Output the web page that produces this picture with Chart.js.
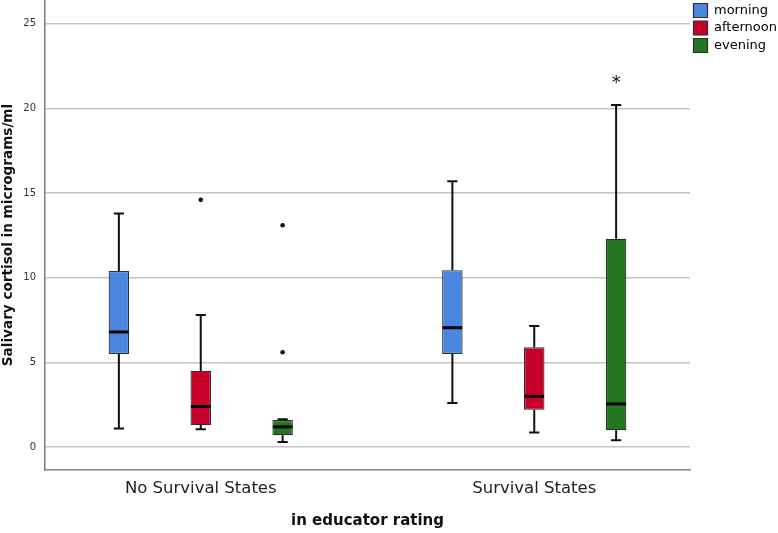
<!DOCTYPE html>
<html><head><meta charset="utf-8">
<script src="https://cdn.jsdelivr.net/npm/chart.js@4/dist/chart.umd.min.js"></script>
<style>html,body{margin:0;padding:0;background:#fff;} #wrap{width:778px;height:533px;position:relative;}</style>
</head><body><div id="wrap"><canvas id="c" width="778" height="533"></canvas></div>
<script>
// ---- data ----
const categories = ["No Survival States", "Survival States"];
const seriesNames = ["morning", "afternoon", "evening"];
const yTicks = [0, 5, 10, 15, 20, 25];

const morningMin    = [1.1, 2.6];
const morningQ1     = [5.5, 5.5];
const morningMedian = [6.8, 7.05];
const morningQ3     = [10.4, 10.45];
const morningMax    = [13.8, 15.7];
const morningOutliers = [[], []];
const morningExtremes = [[], []];

const afternoonMin    = [1.05, 0.86];
const afternoonQ1     = [1.3, 2.2];
const afternoonMedian = [2.4, 3.0];
const afternoonQ3     = [4.5, 5.9];
const afternoonMax    = [7.8, 7.15];
const afternoonOutliers = [[14.6], []];
const afternoonExtremes = [[], []];

const eveningMin    = [0.3, 0.4];
const eveningQ1     = [0.7, 1.0];
const eveningMedian = [1.2, 2.55];
const eveningQ3     = [1.6, 12.3];
const eveningMax    = [1.65, 20.2];
const eveningOutliers = [[5.6, 13.1], []];
const eveningExtremes = [[], [21.8]];

const stats = [
  {min: morningMin, q1: morningQ1, med: morningMedian, q3: morningQ3, max: morningMax, out: morningOutliers, ext: morningExtremes},
  {min: afternoonMin, q1: afternoonQ1, med: afternoonMedian, q3: afternoonQ3, max: afternoonMax, out: afternoonOutliers, ext: afternoonExtremes},
  {min: eveningMin, q1: eveningQ1, med: eveningMedian, q3: eveningQ3, max: eveningMax, out: eveningOutliers, ext: eveningExtremes}
];
const colors = ["#4a86e0", "#c8002a", "#24771f"];

const datasets = stats.map((s, di) => ({
  label: seriesNames[di],
  data: categories.map((c, i) => ({x: i, y: [s.q1[i], s.q3[i]]})),
  backgroundColor: colors[di],
  borderColor: "#2e2e2e",
  borderWidth: 1.2,
  borderSkipped: false,
  categoryPercentage: 0.7365,
  barPercentage: 0.25
}));

const boxPlugin = {
  id: 'boxWhiskers',
  afterDatasetsDraw(chart) {
    const ctx = chart.ctx;
    const ys = chart.scales.y;
    chart.data.datasets.forEach((ds, di) => {
      const meta = chart.getDatasetMeta(di);
      const s = stats[di];
      meta.data.forEach((bar, i) => {
        const cx = bar.x, w = bar.width;
        const pMin = ys.getPixelForValue(s.min[i]);
        const pQ1 = ys.getPixelForValue(s.q1[i]);
        const pMed = ys.getPixelForValue(s.med[i]);
        const pQ3 = ys.getPixelForValue(s.q3[i]);
        const pMax = ys.getPixelForValue(s.max[i]);
        ctx.save();
        ctx.strokeStyle = '#111';
        ctx.lineWidth = 2;
        ctx.beginPath();
        ctx.moveTo(cx, pQ3); ctx.lineTo(cx, pMax);
        ctx.moveTo(cx - w / 4, pMax); ctx.lineTo(cx + w / 4, pMax);
        ctx.moveTo(cx, pQ1); ctx.lineTo(cx, pMin);
        ctx.moveTo(cx - w / 4, pMin); ctx.lineTo(cx + w / 4, pMin);
        ctx.stroke();
        ctx.lineWidth = 3;
        ctx.strokeStyle = '#000';
        ctx.beginPath();
        ctx.moveTo(cx - w / 2 + 0.5, pMed); ctx.lineTo(cx + w / 2 - 0.5, pMed);
        ctx.stroke();
        ctx.fillStyle = '#111';
        s.out[i].forEach(v => {
          ctx.beginPath();
          ctx.arc(cx, ys.getPixelForValue(v), 2.3, 0, Math.PI * 2);
          ctx.fill();
        });
        ctx.font = '18px "DejaVu Sans"';
        ctx.textAlign = 'center';
        ctx.textBaseline = 'alphabetic';
        s.ext[i].forEach(v => {
          ctx.fillText('*', cx, ys.getPixelForValue(v) + 10);
        });
        ctx.restore();
      });
    });
  }
};

Chart.defaults.font.family = '"DejaVu Sans", sans-serif';
new Chart(document.getElementById('c'), {
  type: 'bar',
  data: {datasets},
  plugins: [boxPlugin],
  options: {
    responsive: false,
    animation: false,
    layout: {padding: 0},
    plugins: {
      tooltip: {enabled: false},
      legend: {
        position: 'right',
        align: 'start',
        maxWidth: 88,
        labels: {boxWidth: 14, boxHeight: 14, padding: 3.5, color: '#000', font: {size: 13}}
      }
    },
    scales: {
      x: {
        type: 'linear',
        offset: false,
        min: -0.467,
        max: 1.467,
        afterBuildTicks: (sc) => { sc.ticks = categories.map((c, i) => ({value: i})); },
        afterFit: (sc) => { sc.height = 63; sc.paddingLeft = 0; sc.paddingRight = 0; },
        ticks: {callback: (v) => categories[v], color: '#222', font: {size: 16.5}, padding: 9, maxRotation: 0, autoSkip: false},
        grid: {display: false, drawTicks: false, offset: false},
        border: {display: true, color: '#8a8a8a', width: 1.5},
        title: {display: true, text: 'in educator rating', color: '#111', font: {size: 15, weight: 'bold'}, padding: {top: 0, bottom: 3}}
      },
      y: {
        min: -1.35,
        max: 26.4,
        afterBuildTicks: (sc) => { sc.ticks = yTicks.map(v => ({value: v})); },
        afterFit: (sc) => { sc.width = 45; sc.paddingTop = 0; sc.paddingBottom = 0; },
        ticks: {color: '#333', font: {size: 10}, padding: 9},
        grid: {color: '#c4c4c4', lineWidth: 1.5, drawTicks: false},
        border: {display: true, color: '#7a7a7a', width: 1.5},
        title: {display: true, text: 'Salivary cortisol in micrograms/ml', color: '#111', font: {size: 13.6, weight: 'bold'}, padding: {top: 0, bottom: 0}}
      }
    }
  }
});
</script>
</body></html>
